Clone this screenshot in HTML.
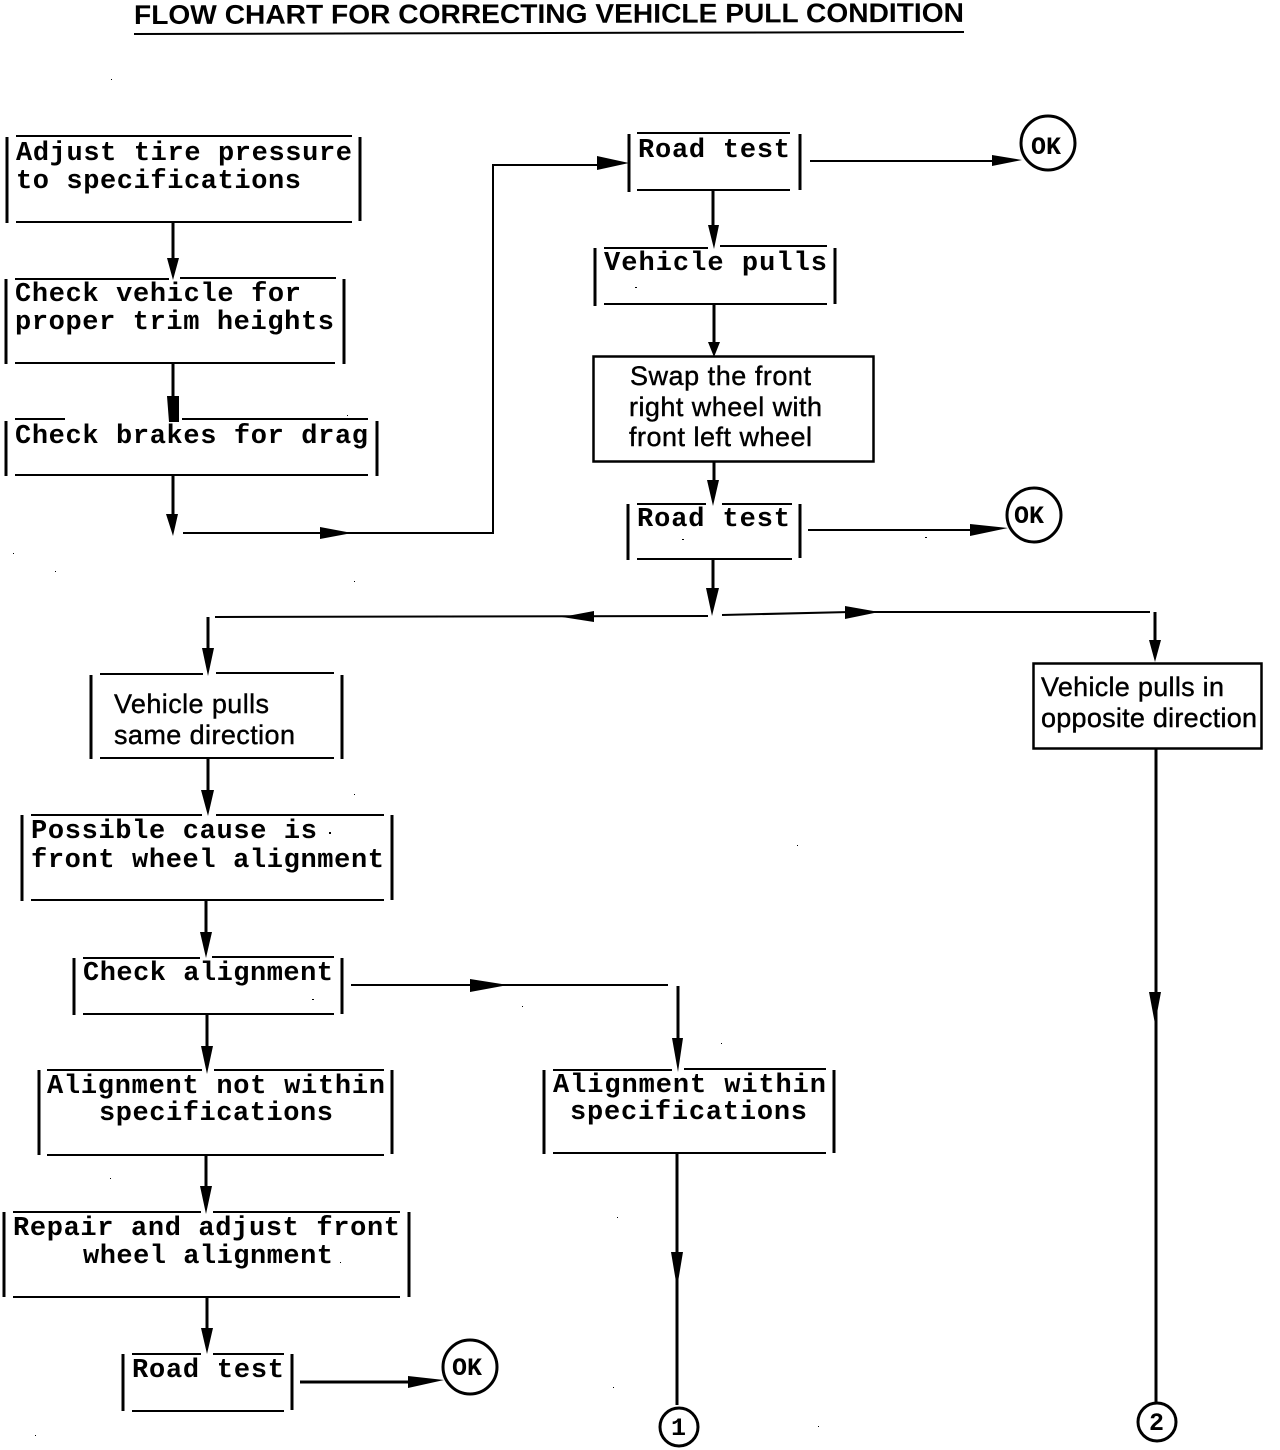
<!DOCTYPE html>
<html><head><meta charset="utf-8"><style>
html,body{margin:0;padding:0;background:#fff}
svg{display:block}
.m{font-family:"Liberation Mono",monospace;font-size:27px;font-weight:bold;fill:#000}
.s{font-family:"Liberation Sans",sans-serif;font-size:27px;fill:#000;stroke:#000;stroke-width:.4}
.t{font-family:"Liberation Sans",sans-serif;font-size:27px;font-weight:bold;fill:#000}
.l{fill:none;stroke:#000;stroke-width:2}
.v{fill:none;stroke:#000;stroke-width:3}
.c{fill:#fff;stroke:#000;stroke-width:3}
</style></head><body>
<svg width="1280" height="1450" viewBox="0 0 1280 1450" xmlns="http://www.w3.org/2000/svg">
<text class="t" x="134" y="24" textLength="830" lengthAdjust="spacingAndGlyphs" transform="rotate(-0.15 134 24)">FLOW CHART FOR CORRECTING VEHICLE PULL CONDITION</text>
<path class="l" d="M134 34L964 32"/>

<!-- boxes: sides and top/bottom -->
<path class="v" d="M7 137V223M360 137V221M6 279V364M344 279V364M6 421V476M377 421V476M629 134V192M800 134V190M595 248V306M835 248V304M628 504V560M800 504V558M91 675V759M342 675V759M22 815V901M392 815V900M74 958V1015M342 958V1014M39 1070V1155M392 1070V1154M544 1070V1154M834 1070V1153M4 1212V1297M409 1212V1297M123 1354V1411M292 1354V1410"/>
<path class="l" d="M16 136H352M16 222H352M15 279H169M180 278H336M15 363H335M15 419H65M182 419H368M15 475H368M637 133H790M637 190H790M604 248H708M720 246H827M604 304H827M637 504H706M722 504H792M637 559H792M100 674H203M216 673H334M100 758H334M31 815H202M216 815H384M31 900H384M83 958H200M212 957H334M83 1014H334M47 1070H202M214 1070H384M47 1155H384M553 1070H672M684 1069H826M553 1153H826M13 1212H201M213 1212H400M13 1297H400M132 1354H201M213 1354H284M132 1411H284"/>
<rect x="593.500" y="356.500" width="280" height="105" fill="none" stroke="#000" stroke-width="2.500"/>
<rect x="1033.500" y="663.500" width="228" height="85" fill="none" stroke="#000" stroke-width="2.500"/>

<!-- connectors -->
<path class="v" d="M173 222V262M173 364V402M173 476V518M713 191V230M714 305V342M714 461V490M713 560V598M208 617V654M208 759V792M206 901V940M207 1014V1050M206 1155V1196M207 1298V1335M678 986V1042M677 1154V1405M1155 612V645M1156 748V1404"/>
<path class="l" d="M183 533H493V165H600M810 161H1000M808 530H985M215 617L708 616M722 615L850 612H1150M351 985H668"/>
<path class="v" d="M300 1382H420"/>

<!-- arrowheads -->
<path d="M167 258h12l-6 22zM708 225h11l-5 24zM708 342h12l-6 15zM707 480h12l-6 26zM706 588h13l-7 28zM202 648h12l-6 28zM201 790h13l-6 26zM200 932h12l-6 26zM201 1046h12l-6 28zM200 1186h12l-6 28zM201 1328h12l-6 26zM672 1038h11l-5 34zM671 1252h12l-6 36zM1149 640h12l-6 22zM1149 992h12l-6 32zM167 396h12v26h-10zM166 514h12l-5 22z"/>
<path d="M320 527l32 6-32 6zM597 156l32 7-32 7zM992 155l30 5-30 6zM970 524l38 4-38 8zM845 606l34 6-34 7zM470 979l38 6-38 7zM408 1376l36 4-36 8zM594 611l-32 6 32 5z"/>

<!-- specks -->
<path d="M111 79h1v1h-1zM13 553h1v1h-1zM55 571h1v1h-1zM354 581h1v1h-1zM635 287h2v1h-2zM682 539h2v1h-2zM925 537h2v1h-2zM329 832h2v2h-2zM354 794h1v1h-1zM797 845h1v1h-1zM312 999h2v1h-2zM522 1006h1v1h-1zM721 1043h1v1h-1zM110 1178h1v1h-1zM617 1217h1v1h-1zM340 1262h1v1h-1zM818 1426h1v1h-1zM613 1387h1v1h-1zM35 1435h1v1h-1zM347 415h1v1h-1z"/>

<!-- circles -->
<circle class="c" cx="1048" cy="143" r="27"/>
<circle class="c" cx="1034" cy="515" r="27"/>
<circle class="c" cx="470" cy="1367" r="27"/>
<circle class="c" cx="679" cy="1427" r="19"/>
<circle class="c" cx="1157" cy="1422" r="19"/>
<text class="m" x="1031" y="154" style="font-size:25px">OK</text>
<text class="m" x="1014" y="523" style="font-size:25px">OK</text>
<text class="m" x="452" y="1375" style="font-size:25px">OK</text>
<text class="m" x="671" y="1435" style="font-size:25px">1</text>
<text class="m" x="1149" y="1430" style="font-size:25px">2</text>

<!-- mono text -->
<g class="m">
<text x="16" y="160" textLength="336">Adjust tire pressure</text>
<text x="16" y="188" textLength="285">to specifications</text>
<text x="15" y="301" textLength="286">Check vehicle for</text>
<text x="15" y="329" textLength="319">proper trim heights</text>
<text x="15" y="443" textLength="353">Check brakes for drag</text>
<text x="638" y="157" textLength="152">Road test</text>
<text x="604" y="270" textLength="223">Vehicle pulls</text>
<text x="637" y="526" textLength="153">Road test</text>
<text x="31" y="838" textLength="286">Possible cause is</text>
<text x="31" y="867" textLength="353">front wheel alignment</text>
<text x="83" y="980" textLength="250">Check alignment</text>
<text x="47" y="1093" textLength="338">Alignment not within</text>
<text x="99" y="1120" textLength="234">specifications</text>
<text x="553" y="1092" textLength="273">Alignment within</text>
<text x="570" y="1119" textLength="237">specifications</text>
<text x="13" y="1235" textLength="387">Repair and adjust front</text>
<text x="83" y="1263" textLength="250">wheel alignment</text>
<text x="132" y="1377" textLength="152">Road test</text>
</g>

<!-- sans text -->
<g class="s">
<text x="630" y="385" textLength="181">Swap the front</text>
<text x="629" y="416" textLength="193">right wheel with</text>
<text x="629" y="446" textLength="183">front left wheel</text>
<text x="114" y="713" textLength="155">Vehicle pulls</text>
<text x="114" y="744" textLength="181">same direction</text>
<text x="1041" y="696" textLength="183">Vehicle pulls in</text>
<text x="1041" y="727" textLength="216">opposite direction</text>
</g>
</svg>
</body></html>
